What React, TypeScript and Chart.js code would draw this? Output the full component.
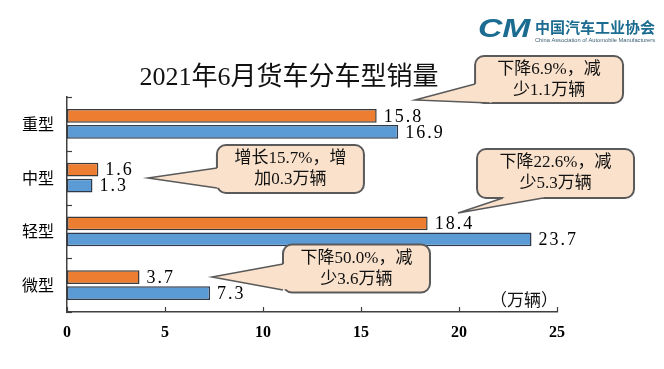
import React, { useEffect, useRef } from 'react';
import { Chart, registerables } from 'chart.js';

Chart.register(...registerables);

// ---- data ----
const categories = ['重型', '中型', '轻型', '微型'];
const sales2021 = [15.8, 1.6, 18.4, 3.7];
const sales2020 = [16.9, 1.3, 23.7, 7.3];
const xTickValues = [0, 5, 10, 15, 20, 25];
const titleText = '2021年6月货车分车型销量';
const unitText = '（万辆）';
const orgNameCn = '中国汽车工业协会';
const orgNameEn = 'China Association of Automobile Manufacturers';
const calloutTexts = [
  ['下降6.9%，减', '少1.1万辆'],
  ['增长15.7%，增', '加0.3万辆'],
  ['下降22.6%，减', '少5.3万辆'],
  ['下降50.0%，减', '少3.6万辆'],
];

// ---- callout layout, in scale units (x value, category index) ----
type Pt = [number, number];
type CalloutGeom = { box: [number, number, number, number]; tip: Pt; b1: Pt; b2: Pt };
const calloutGeom: CalloutGeom[] = [
  { box: [20.82, 28.37, -1.263, -0.388], tip: [17.76, -0.444], b1: [20.82, -0.742], b2: [21.58, -0.388] },
  { box: [7.65, 15.15, 0.393, 1.286], tip: [4.13, 1.007], b1: [7.65, 0.821], b2: [7.65, 1.193] },
  { box: [20.92, 28.93, 0.467, 1.379], tip: [19.95, 1.658], b1: [22.24, 1.379], b2: [24.29, 1.379] },
  { box: [11.02, 18.52, 2.244, 3.137], tip: [7.4, 2.849], b1: [11.02, 2.607], b2: [11.02, 3.091] },
];

const SERIF_CJK = '"Liberation Serif", "Noto Sans CJK SC"';

function roundRect(ctx: CanvasRenderingContext2D, x: number, y: number, w: number, h: number, r: number) {
  ctx.beginPath();
  ctx.moveTo(x + r, y);
  ctx.lineTo(x + w - r, y);
  ctx.arcTo(x + w, y, x + w, y + r, r);
  ctx.lineTo(x + w, y + h - r);
  ctx.arcTo(x + w, y + h, x + w - r, y + h, r);
  ctx.lineTo(x + r, y + h);
  ctx.arcTo(x, y + h, x, y + h - r, r);
  ctx.lineTo(x, y + r);
  ctx.arcTo(x, y, x + r, y, r);
  ctx.closePath();
}

const decorPlugin = {
  id: 'decor',
  afterDraw(chart: any) {
    const ctx: CanvasRenderingContext2D = chart.ctx;
    const xs = chart.scales.x;
    const ys = chart.scales.y;
    const area = chart.chartArea;
    const px = (v: number) => xs.getPixelForValue(v);
    const py = (v: number) => ys.getPixelForValue(v);
    ctx.save();

    // tick marks (inside)
    ctx.strokeStyle = '#404040';
    ctx.lineWidth = 1.2;
    xTickValues.forEach((v) => {
      const x = Math.round(px(v)) + 0.5;
      ctx.beginPath();
      ctx.moveTo(x, area.bottom);
      ctx.lineTo(x, area.bottom - 5);
      ctx.stroke();
    });
    for (let i = 0; i <= categories.length; i++) {
      const y = Math.round(py(i - 0.5)) + 0.5;
      ctx.beginPath();
      ctx.moveTo(area.left, y);
      ctx.lineTo(area.left + 5, y);
      ctx.stroke();
    }

    // value labels
    ctx.fillStyle = '#000';
    ctx.textBaseline = 'middle';
    ctx.textAlign = 'left';
    ctx.font = '18px "Liberation Serif"';
    (ctx as any).letterSpacing = '2px';
    chart.data.datasets.forEach((ds: any, di: number) => {
      const meta = chart.getDatasetMeta(di);
      meta.data.forEach((el: any, i: number) => {
        ctx.fillText(Number(ds.data[i]).toFixed(1), el.x + 7, el.y + 1);
      });
    });
    (ctx as any).letterSpacing = '0px';

    // title
    ctx.font = `26px ${SERIF_CJK}`;
    ctx.textAlign = 'center';
    ctx.fillStyle = '#111';
    ctx.fillText(titleText, 289, 78);

    // unit
    ctx.font = '17px "Noto Sans CJK SC"';
    ctx.textAlign = 'right';
    ctx.fillStyle = '#111';
    ctx.fillText(unitText, area.right + 1, area.bottom - 12);

    // logo
    ctx.fillStyle = '#1c6c91';
    ctx.textAlign = 'left';
    ctx.font = 'italic bold 25px "Liberation Sans"';
    ctx.save();
    ctx.translate(478, 38);
    ctx.scale(1.35, 1);
    ctx.fillText('CM', 0, -8);
    ctx.restore();
    ctx.font = 'bold 15px "Noto Sans CJK SC"';
    ctx.fillText(orgNameCn, 535, 27);
    ctx.font = '6px "Liberation Sans"';
    ctx.fillStyle = '#3a5f73';
    ctx.fillText(orgNameEn, 535, 40, 120);

    // callouts
    calloutGeom.forEach((g, k) => {
      const x0 = px(g.box[0]);
      const x1 = px(g.box[1]);
      const y0 = py(g.box[2]);
      const y1 = py(g.box[3]);
      const tip = [px(g.tip[0]), py(g.tip[1])];
      const b1 = [px(g.b1[0]), py(g.b1[1])];
      const b2 = [px(g.b2[0]), py(g.b2[1])];
      const cx = (x0 + x1) / 2;
      const cy = (y0 + y1) / 2;
      ctx.fillStyle = '#f9e1cb';
      ctx.strokeStyle = '#5a5a5a';
      ctx.lineWidth = 2;
      roundRect(ctx, x0, y0, x1 - x0, y1 - y0, 9);
      ctx.fill();
      ctx.stroke();
      // pointer
      ctx.beginPath();
      ctx.moveTo(tip[0], tip[1]);
      ctx.lineTo(b1[0], b1[1]);
      ctx.lineTo(b1[0] + (cx - b1[0]) * 0.15, b1[1] + (cy - b1[1]) * 0.15);
      ctx.lineTo(b2[0] + (cx - b2[0]) * 0.15, b2[1] + (cy - b2[1]) * 0.15);
      ctx.lineTo(b2[0], b2[1]);
      ctx.closePath();
      ctx.fill();
      ctx.beginPath();
      ctx.moveTo(b1[0], b1[1]);
      ctx.lineTo(tip[0], tip[1]);
      ctx.lineTo(b2[0], b2[1]);
      ctx.lineWidth = 1.5;
      ctx.stroke();
      // text
      ctx.fillStyle = '#111';
      ctx.textAlign = 'center';
      ctx.textBaseline = 'middle';
      ctx.font = `17px ${SERIF_CJK}`;
      const lines = calloutTexts[k];
      ctx.fillText(lines[0], cx, y0 + 14);
      ctx.fillText(lines[1], cx, y0 + 35);
    });

    ctx.restore();
  },
};

export default function App() {
  const ref = useRef<HTMLCanvasElement>(null);
  useEffect(() => {
    if (!ref.current) return;
    const borderOpt = { display: true, color: '#404040', width: 1.5 };
    const chart = new Chart(ref.current, {
      type: 'bar',
      data: {
        labels: categories,
        datasets: [
          {
            label: '2021年6月',
            data: sales2021,
            backgroundColor: '#ED7D31',
            borderColor: '#3a3a3a',
            borderWidth: 1.5,
            borderSkipped: false,
            categoryPercentage: 0.6,
            barPercentage: 0.85,
          },
          {
            label: '2020年6月',
            data: sales2020,
            backgroundColor: '#5B9BD5',
            borderColor: '#2f3b4a',
            borderWidth: 1.5,
            borderSkipped: false,
            categoryPercentage: 0.6,
            barPercentage: 0.85,
          },
        ],
      },
      options: {
        indexAxis: 'y',
        animation: false,
        responsive: false,
        devicePixelRatio: 1,
        layout: { padding: { top: 97, right: 107, left: 0, bottom: 0 } },
        plugins: {
          legend: { display: false },
          tooltip: { enabled: false },
          title: { display: false },
        },
        scales: {
          x: {
            min: 0,
            max: 25,
            ticks: {
              stepSize: 5,
              padding: 11,
              color: '#000',
              font: { family: '"Liberation Serif"', size: 16, weight: 'bold' },
            },
            grid: { display: false, drawTicks: false },
            border: borderOpt,
            afterFit: (s: any) => {
              s.height = 57;
            },
          },
          y: {
            ticks: {
              padding: 13,
              color: '#000',
              font: { family: '"Noto Sans CJK SC"', size: 16 },
            },
            grid: { display: false, drawTicks: false },
            border: borderOpt,
            afterFit: (s: any) => {
              s.width = 67;
            },
          },
        },
      } as any,
      plugins: [decorPlugin],
    });
    return () => chart.destroy();
  }, []);

  return (
    <div style={{ position: 'absolute', left: 0, top: 0, width: 664, height: 369, background: '#fff' }}>
      <canvas ref={ref} width={664} height={369} style={{ display: 'block' }} />
    </div>
  );
}
